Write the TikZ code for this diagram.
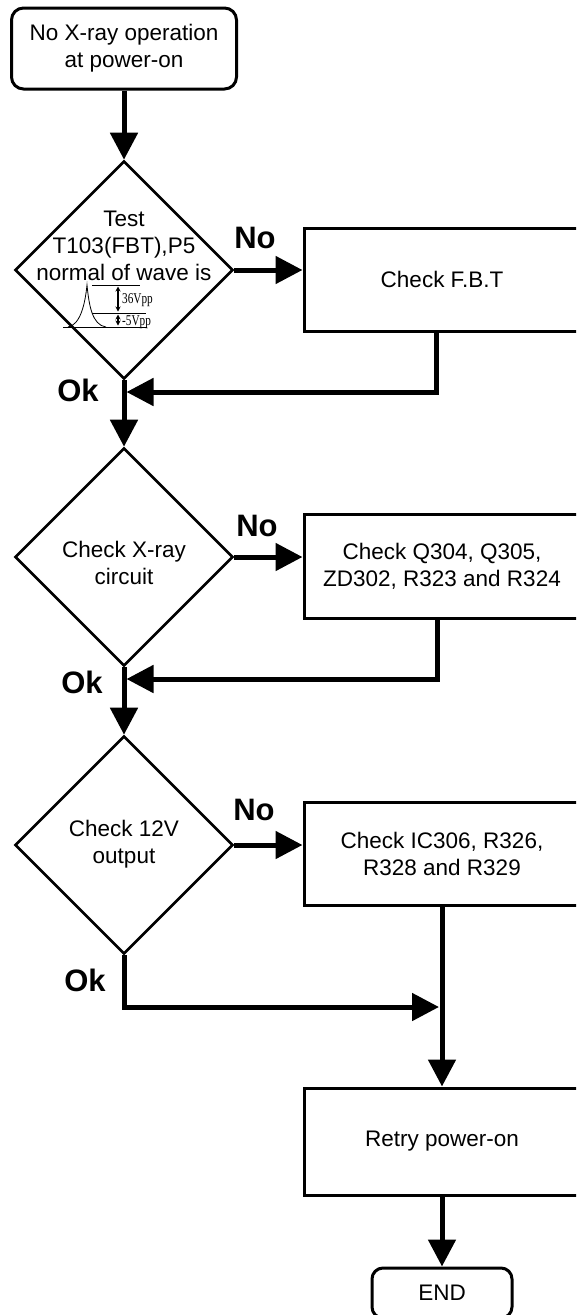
\documentclass[tikz,border=0pt]{standalone}
\usepackage{fontspec}
\setmainfont{Liberation Sans}
\newfontfamily\serifwave{Liberation Serif}
\usetikzlibrary{arrows.meta,shapes.geometric}
\begin{document}
\begin{tikzpicture}[x=1pt,y=-1pt,
  conn/.style={line width=5pt},
  arr/.style={conn,-{Triangle[length=27pt,width=27pt]}},
  txt/.style={font=\fontsize{22.5}{27}\selectfont,align=center,inner sep=0pt},
  box/.style={draw,line width=3pt,rectangle,minimum width=276pt,txt},
  dia/.style={draw,line width=2.6pt,diamond,minimum width=218pt,minimum height=218pt,inner sep=0pt,aspect=1},
  lab/.style={font=\fontsize{31}{31}\selectfont\bfseries,inner sep=0pt},
  wv/.style={font=\serifwave\fontsize{15}{15}\selectfont,inner sep=0pt},
  thin/.style={line width=0.8pt},
  dbl/.style={line width=1.2pt,{Stealth[length=5pt,width=5pt]}-{Stealth[length=5pt,width=5pt]}},
]
\useasboundingbox (0,0) rectangle (576,1315);
\fill[white] (0,0) rectangle (576,1315);
\clip (0,0) rectangle (576,1315);

% nodes
\node[draw,line width=3pt,rounded corners=12pt,minimum width=225pt,minimum height=81pt,txt] (start) at (124,48.5) {No X-ray operation\\at power-on};

\node[dia] (d1) at (124,270) {};
\node[txt] (d1t) at (124,246) {Test\\T103(FBT),P5\\normal of wave is};
\node[box,minimum height=103pt] (b1) at (442,279.5) {Check F.B.T};

\node[dia] (d2) at (124,557) {};
\node[txt] (d2t) at (124,563) {Check X-ray\\circuit};
\node[box,minimum height=104pt] (b2) at (442,566) {Check Q304, Q305,\\ZD302, R323 and R324};

\node[dia] (d3) at (124,845) {};
\node[txt] (d3t) at (124,844) {Check 12V\\output};
\node[box,minimum height=103pt] (b3) at (442,853.5) {Check IC306, R326,\\R328 and R329};

\node[box,minimum height=107pt] (retry) at (442,1141.5) {Retry power-on};
\node[draw,line width=3pt,rounded corners=11pt,minimum width=140pt,minimum height=50pt,txt] (end) at (442,1293) {END};

% labels
\node[lab] (no1) at (255,238) {No};
\node[lab] (no2) at (257,526) {No};
\node[lab] (no3) at (254,810) {No};
\node[lab] (ok1) at (78,390) {Ok};
\node[lab] (ok2) at (82,682) {Ok};
\node[lab] (ok3) at (85,980) {Ok};

% waveform in first decision
\draw[thin] (63,327) -- (147,327);
\draw[thin] (92,313) -- (146,313);
\draw[thin] (92,285) -- (140,285);
\draw[thin] (68,327) .. controls (80,325) and (85,305) .. (87,285) .. controls (89,305) and (92,325) .. (106,327);
\draw[dbl] (118,286.5) -- (118,311.5);
\draw[dbl] (118,314.5) -- (118,325.5);
\node[wv,anchor=west] (v36) at (122,300) {\scalebox{0.75}[1]{36Vpp}};
\node[wv,anchor=west] (v5) at (122,322) {\scalebox{0.75}[1]{-5Vpp}};

% coordinates for bends
\coordinate (r1) at (436,392);
\coordinate (m1) at (126.5,392);
\coordinate (r2) at (437,679);
\coordinate (m2) at (126.5,679);
\coordinate (k3) at (124,1007);
\coordinate (k3e) at (439,1007);

% connectors
\draw[arr] (start.south) -- (d1.north);
\draw[arr] (d1.south) -- (d2.north);
\draw[arr] (d2.south) -- (d3.north);
\draw[arr] (d1.east) -- (d1.east -| b1.west);
\draw[arr] (d2.east) -- (d2.east -| b2.west);
\draw[arr] (d3.east) -- (d3.east -| b3.west);
\draw[arr] (b1.south -| r1) -- (r1) -- (m1);
\draw[arr] (b2.south -| r2) -- (r2) -- (m2);
\draw[arr] (d3.south) -- (k3) -- (k3e);
\draw[arr] (b3.south) -- (retry.north);
\draw[arr] (retry.south) -- (end.north);
\end{tikzpicture}
\end{document}
